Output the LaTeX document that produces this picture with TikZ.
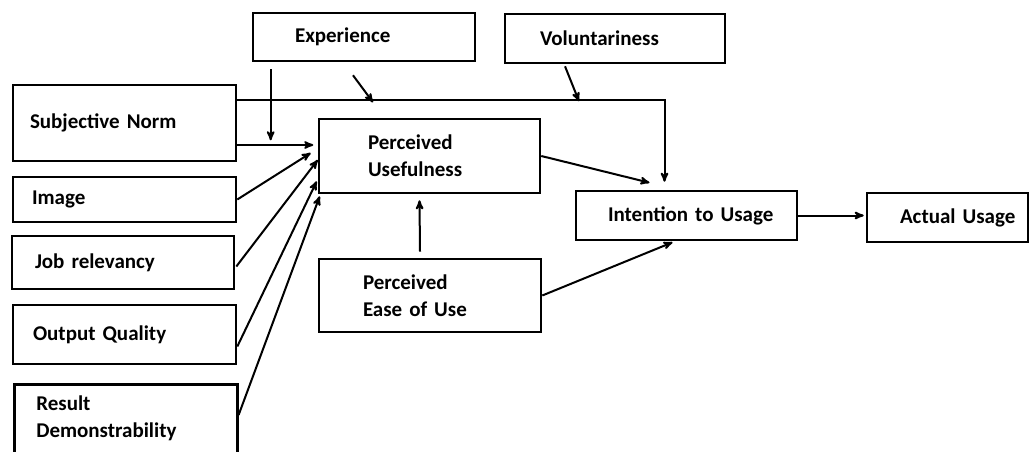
\documentclass[tikz,border=0pt]{standalone}
\usepackage{fontspec}
\setmainfont{Carlito}
\usepackage{tikz}
\usetikzlibrary{arrows,calc}

\begin{document}
\begin{tikzpicture}[->,>=stealth',x=1pt,y=-1pt,line width=2pt]
\tikzstyle{block}=[-,draw=black,text=black,line width=2.6pt,rectangle,align=left,inner ysep=0pt,font=\bfseries\fontsize{21}{27}\selectfont]
\useasboundingbox[-] (0,0) rectangle (1031,452);
\clip[-] (0,0) rectangle (1031,452);
% boxes
\node[block,minimum height=48pt,inner xsep=42pt,text width=138pt] (exp) at (364,37) {\mbox{Experience}};
\node[block,minimum height=49pt,inner xsep=35pt,text width=150pt] (vol) at (615,38.5) {\mbox{Voluntariness}};
\node[block,minimum height=76pt,inner xsep=17pt,text width=189pt] (sn) at (124.5,123) {\mbox{Subjective Norm}};
\node[block,minimum height=45pt,inner xsep=19pt,text width=185pt] (img) at (124.5,199.5) {\mbox{Image}};
\node[block,minimum height=53pt,inner xsep=23pt,text width=176pt] (job) at (123,262.5) {\mbox{Job relevancy}};
\node[block,minimum height=59pt,inner xsep=20pt,text width=183pt] (oq) at (124.5,334.5) {\mbox{Output Quality}};
\node[block,minimum height=100pt,inner xsep=22pt,text width=179pt,anchor=north west] (rd) at (13,383) {};
\node[block,draw=none,inner sep=0pt,anchor=north west] (rdtext) at (35,394) {Result\\Demonstrability};
\node[block,minimum height=74pt,inner xsep=49pt,text width=123pt] (pu) at (429.5,156) {Perceived\\Usefulness};
\node[block,minimum height=73pt,inner xsep=44pt,text width=134pt] (peou) at (430,295.5) {Perceived\\\mbox{Ease of Use}};
\node[block,minimum height=49pt,inner xsep=32pt,text width=157pt] (itu) at (686.5,215.5) {\mbox{Intention to Usage}};
\node[block,minimum height=49pt,inner xsep=33pt,text width=95pt] (au) at (947.5,217.5) {\mbox{Actual Usage}};
% moderators
\draw ($(exp.south west)+(19,7)$) -- ++(0,71);
\draw ($(exp.south)+(-11,13)$) -- ++(20,27);
\draw ($(vol.south)+(-50,2)$) -- ++(14,35);
\draw ($(sn.north east)+(0,16)$) -| ($(itu.north)+(-22,-8)$);
% into usefulness
\draw ($(sn.east)+(0,22)$) -- ++(76,0);
\draw (img.east) -- ($(pu.west)+(-7,-3)$);
\draw ($(job.east)+(1,4)$) -- ($(pu.west)+(0,4)$);
\draw ($(oq.east)+(0,12)$) -- ($(pu.south west)+(-1,-13)$);
\draw ($(rd.north east)+(0,32)$) -- ($(pu.south west)+(2,2)$);
\draw ($(peou.north)+(-10,-6)$) -- ($(pu.south)+(-10,6)$);
% into intention
\draw (pu.east) -- ($(itu.north)+(-37,-7)$);
\draw (peou.east) -- ($(itu.south)+(-14,1)$);
\draw[shorten >=2pt] (itu.east) -- (itu.east -| au.west);
\end{tikzpicture}
\end{document}
